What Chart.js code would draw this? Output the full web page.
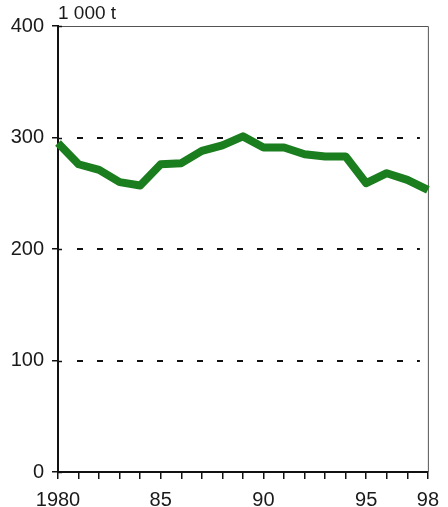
<!DOCTYPE html>
<html>
<head>
<meta charset="utf-8">
<script src="https://cdn.jsdelivr.net/npm/chart.js@4"></script>
<style>
  html, body { margin: 0; padding: 0; background: #fff; }
  #wrap { position: relative; width: 448px; height: 507px; }
</style>
</head>
<body>
<div id="wrap"><canvas id="lineChart"></canvas></div>
<script>
// data
const years = ['1980', '1981', '1982', '1983', '1984', '1985', '1986', '1987', '1988', '1989',
               '1990', '1991', '1992', '1993', '1994', '1995', '1996', '1997', '1998'];
const tonnes = [295, 276, 271, 260, 257, 276, 277, 288, 293, 301,
                291, 291, 285, 283, 283, 259, 268, 262, 253];
const xTickLabels = { '1980': '1980', '1985': '85', '1990': '90', '1995': '95', '1998': '98' };
const yTicks = [0, 100, 200, 300, 400];
const unitLabel = '1 000 t';

// dashed guides, crossing y ticks, top/right frame, unit label
const framePlugin = {
    id: 'frame',
    beforeDatasetsDraw(chart) {
        const { ctx, chartArea: a, scales } = chart;
        ctx.save();
        // dashed lines at 100/200/300
        ctx.strokeStyle = '#111';
        ctx.lineWidth = 2;
        ctx.setLineDash([6, 14]);
        [100, 200, 300].forEach(v => {
            const y = Math.round(scales.y.getPixelForValue(v));
            ctx.beginPath();
            ctx.moveTo(a.left + 19, y);
            ctx.lineTo(a.right - 8, y);
            ctx.stroke();
        });
        ctx.setLineDash([]);
        // top and right frame
        ctx.strokeStyle = '#555';
        ctx.lineWidth = 1;
        ctx.beginPath();
        ctx.moveTo(a.left, a.top + 0.5);
        ctx.lineTo(a.right + 0.5, a.top + 0.5);
        ctx.lineTo(a.right + 0.5, a.bottom);
        ctx.stroke();
        // inner part of y ticks
        ctx.strokeStyle = '#111';
        ctx.lineWidth = 1.5;
        yTicks.forEach(v => {
            const y = Math.round(scales.y.getPixelForValue(v)) + 0.5;
            ctx.beginPath();
            ctx.moveTo(a.left, y);
            ctx.lineTo(a.left + 4, y);
            ctx.stroke();
        });
        // unit label
        ctx.fillStyle = '#1a1a1a';
        ctx.font = '19px "Liberation Sans", Arial, sans-serif';
        ctx.textBaseline = 'middle';
        ctx.textAlign = 'left';
        ctx.fillText(unitLabel, a.left, 14);
        ctx.restore();
    }
};

const lineChart = document.getElementById('lineChart');
new Chart(lineChart, {
    type: 'line',
    data: {
        labels: years,
        datasets: [{
            data: tonnes,
            borderColor: '#1a7d1e',
            borderWidth: 8,
            borderJoinStyle: 'round',
            pointRadius: 0,
            tension: 0,
            fill: false
        }]
    },
    options: {
        responsive: true,
        maintainAspectRatio: false,
        animation: false,
        layout: {
            padding: { left: 0, top: 26, right: 20, bottom: 0 }
        },
        plugins: {
            legend: { display: false },
            tooltip: { enabled: false }
        },
        scales: {
            x: {
                offset: false,
                afterFit: scale => { scale.height = 35; },
                border: { display: true, color: '#111', width: 2 },
                grid: {
                    drawOnChartArea: false,
                    drawTicks: true,
                    tickLength: 7,
                    color: '#111',
                    lineWidth: 1.5
                },
                ticks: {
                    autoSkip: false,
                    maxRotation: 0,
                    padding: 9,
                    color: '#1a1a1a',
                    font: { family: '"Liberation Sans", Arial, sans-serif', size: 20 },
                    callback: function (value) {
                        const lbl = this.getLabelForValue(value);
                        return xTickLabels[lbl] || '';
                    }
                }
            },
            y: {
                min: 0,
                max: 400,
                afterFit: scale => { scale.width = 58; },
                afterBuildTicks: scale => { scale.ticks = yTicks.map(v => ({ value: v })); },
                border: { display: true, color: '#111', width: 2 },
                grid: {
                    drawOnChartArea: false,
                    drawTicks: true,
                    tickLength: 6,
                    color: '#111',
                    lineWidth: 1.5
                },
                ticks: {
                    padding: 8,
                    color: '#1a1a1a',
                    font: { family: '"Liberation Sans", Arial, sans-serif', size: 20 }
                }
            }
        }
    },
    plugins: [framePlugin]
});
</script>
</body>
</html>
